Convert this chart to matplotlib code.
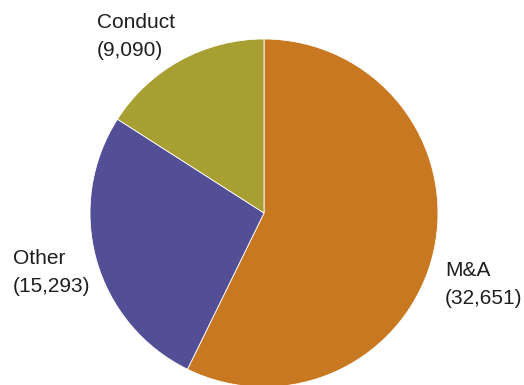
import matplotlib
matplotlib.use("Agg")
import matplotlib.pyplot as plt

categories = ["M&A", "Other", "Conduct"]
values = [32651, 15293, 9090]
value_labels = ["(32,651)", "(15,293)", "(9,090)"]
colors = ["#C87820", "#534F97", "#A89F32"]

W, H = 524, 385
fig = plt.figure(figsize=(W / 100, H / 100), dpi=100)
ax = fig.add_axes([0, 0, 1, 1])

cx, cy, r = 264, H - 213, 174
ax.pie(values, colors=colors, startangle=90, counterclock=False,
       center=(cx, cy), radius=r,
       wedgeprops=dict(edgecolor="white", linewidth=0.6))
ax.set_xlim(0, W)
ax.set_ylim(0, H)
ax.set_aspect("equal")
ax.axis("off")

# label positions (pixels from top-left)
label_pos = {"M&A": (445, 270), "Other": (13, 258), "Conduct": (97, 22)}
gap = 29
for cat, vl in zip(categories, value_labels):
    x, y = label_pos[cat]
    ax.text(x, H - y, cat, fontsize=15, family="Liberation Sans",
            color="#1e1e1e", ha="left", va="center")
    ax.text(x, H - y - gap, vl, fontsize=15, family="Liberation Sans",
            color="#1e1e1e", ha="left", va="center")

fig.savefig("out.png", dpi=100)
